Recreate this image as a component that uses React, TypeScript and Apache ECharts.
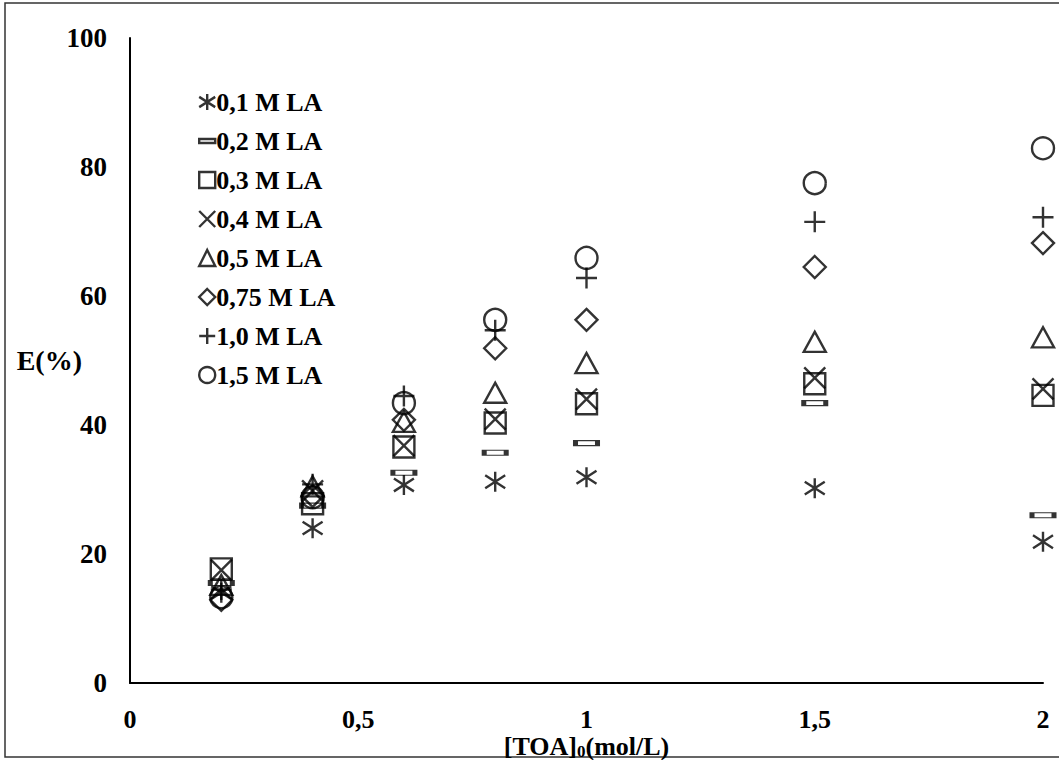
import React, { useEffect, useRef } from "react";
import * as echarts from "echarts";

const xValues = [0.2, 0.4, 0.6, 0.8, 1.0, 1.5, 2.0];
const seriesNames = ["0,1 M LA", "0,2 M LA", "0,3 M LA", "0,4 M LA", "0,5 M LA", "0,75 M LA", "1,0 M LA", "1,5 M LA"];
const la01 = [14.0, 24.0, 30.7, 31.2, 31.9, 30.2, 21.9];
const la02 = [15.5, 27.5, 32.6, 35.7, 37.2, 43.4, 26.0];
const la03 = [17.7, 27.8, 36.6, 40.3, 43.3, 46.4, 44.6];
const la04 = [17.5, 29.8, 36.8, 40.9, 44.0, 47.3, 45.6];
const la05 = [15.2, 30.5, 40.5, 45.0, 49.6, 52.9, 53.6];
const la075 = [12.9, 29.0, 40.8, 51.9, 56.3, 64.5, 68.2];
const la10 = [14.5, 30.8, 44.5, 54.7, 62.8, 71.5, 72.2];
const la15 = [13.3, 28.8, 43.4, 56.3, 65.9, 77.5, 82.9];
const allValues = [la01, la02, la03, la04, la05, la075, la10, la15];

const symbols: string[] = [
  "path://M5,0L5,10M0,1.8L10,8.2M10,1.8L0,8.2",
  "rect",
  "rect",
  "path://M0,0L10,10M10,0L0,10",
  "triangle",
  "diamond",
  "path://M5,0L5,10M0,5L10,5",
  "circle",
];
const legendIcons: string[] = [
  "path://M5,0L5,10M0,1.8L10,8.2M10,1.8L0,8.2",
  "path://M0,0L16,0L16,4L0,4Z",
  "rect",
  "path://M0,0L10,10M10,0L0,10",
  "triangle",
  "diamond",
  "path://M5,0L5,10M0,5L10,5",
  "circle",
];
const symbolSizes: any[] = [20, [22, 5], 21, 21, [22, 20], 22, 21, 22];

const FONT = "'Liberation Serif', 'Times New Roman', serif";

export default function App() {
  const ref = useRef<HTMLDivElement>(null);
  useEffect(() => {
    if (!ref.current) return;
    const chart = echarts.init(ref.current, undefined, { renderer: "svg" });
    const series = allValues.map((vals, i) => ({
      name: seriesNames[i],
      type: "scatter",
      symbol: symbols[i],
      symbolSize: symbolSizes[i],
      symbolKeepAspect: i !== 1,
      data: vals.map((v, j) => [xValues[j], v]),
      itemStyle: { color: "transparent", borderColor: "#000", borderWidth: 2.4 },
      emphasis: { disabled: true },
    }));
    chart.setOption({
      animation: false,
      backgroundColor: "#fff",
      grid: { left: 130, right: 16, top: 38, bottom: 77, containLabel: false, outerBoundsMode: "none" },
      legend: {
        orient: "vertical",
        left: 193,
        top: 84,
        itemWidth: 16,
        itemHeight: 16,
        itemGap: 13,
        selectedMode: false,
        data: seriesNames.map((n, i) => ({ name: n, icon: legendIcons[i] })),
        itemStyle: { color: "transparent", borderColor: "#000", borderWidth: 2.4 },
        textStyle: { fontFamily: FONT, fontWeight: "bold", fontSize: 26, color: "#000", padding: [0, 0, 0, -4] },
      },
      xAxis: {
        type: "value",
        min: 0,
        max: 2,
        interval: 0.5,
        axisLine: { show: true, onZero: false, lineStyle: { color: "#000", width: 2 } },
        axisTick: { show: false },
        splitLine: { show: false },
        axisLabel: {
          margin: 23,
          fontFamily: FONT,
          fontWeight: "bold",
          fontSize: 26,
          color: "#000",
          formatter: (v: number) => String(v).replace(".", ","),
        },
        name: "{a|[TOA]}{b|0}{a|(mol/L)}",
        nameLocation: "middle",
        nameGap: 50,
        nameMoveOverlap: false,
        nameTextStyle: {
          rich: {
            a: { fontFamily: FONT, fontWeight: "bold", fontSize: 26, color: "#000", lineHeight: 26, verticalAlign: "top" },
            b: { fontFamily: FONT, fontWeight: "bold", fontSize: 17, color: "#000", lineHeight: 16, padding: [10, 0, 0, 0] },
          },
        },
      },
      yAxis: {
        type: "value",
        min: 0,
        max: 100,
        interval: 20,
        axisLine: { show: true, lineStyle: { color: "#000", width: 2 } },
        axisTick: { show: false },
        splitLine: { show: false },
        axisLabel: { margin: 23, fontFamily: FONT, fontWeight: "bold", fontSize: 27, color: "#000" },
        name: "E(%)",
        nameLocation: "middle",
        nameRotate: 0,
        nameGap: 48,
        nameMoveOverlap: false,
        nameTextStyle: { fontFamily: FONT, fontWeight: "bold", fontSize: 28, color: "#000" },
      },
      graphic: [
        {
          type: "rect",
          silent: true,
          z: -10,
          shape: { x: 5, y: 3, width: 1062, height: 754 },
          style: { fill: "none", stroke: "#333", lineWidth: 1.5 },
        },
      ],
      series,
    });
    return () => chart.dispose();
  }, []);
  return <div ref={ref} style={{ position: "absolute", left: 0, top: 0, width: 1059, height: 760 }} />;
}
